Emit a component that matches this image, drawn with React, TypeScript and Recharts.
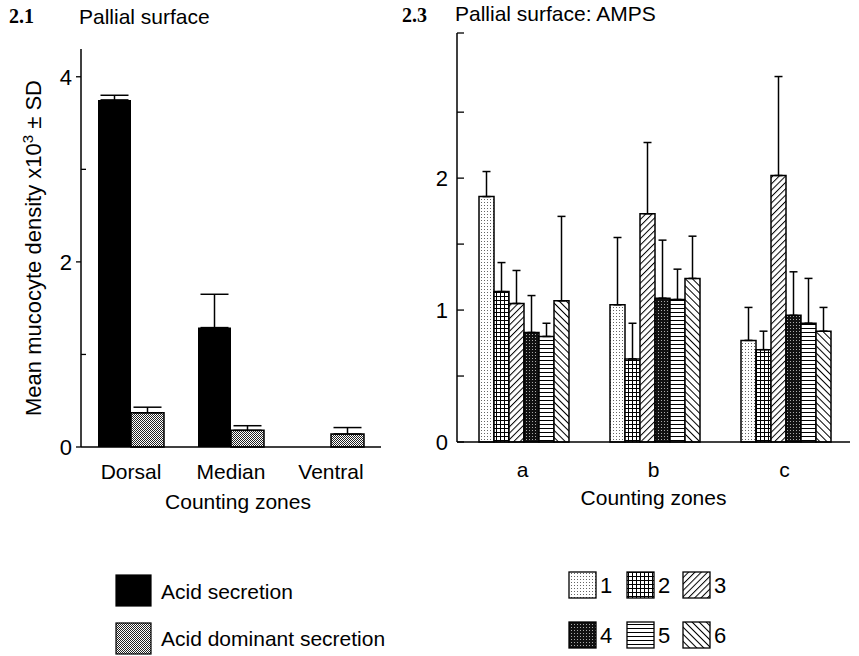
import React from 'react';
import { BarChart, Bar, XAxis, YAxis, ErrorBar, Label } from 'recharts';

// 2.1 Pallial surface
const zones21 = ['Dorsal', 'Median', 'Ventral'];
const acidSecretion = [3.75, 1.29, 0];
const acidSecretionSD = [0.05, 0.36, 0];
const acidDominant = [0.37, 0.18, 0.14];
const acidDominantSD = [0.06, 0.05, 0.07];
const ticks21 = [0, 1, 2, 3, 4];

// 2.3 Pallial surface: AMPS
const zones23 = ['a', 'b', 'c'];
const amps1 = [1.86, 1.04, 0.77];
const amps2 = [1.14, 0.63, 0.7];
const amps3 = [1.05, 1.73, 2.02];
const amps4 = [0.83, 1.09, 0.96];
const amps5 = [0.8, 1.08, 0.9];
const amps6 = [1.07, 1.24, 0.84];
const ampsSD1 = [0.19, 0.51, 0.25];
const ampsSD2 = [0.22, 0.27, 0.14];
const ampsSD3 = [0.25, 0.54, 0.75];
const ampsSD4 = [0.28, 0.44, 0.33];
const ampsSD5 = [0.1, 0.23, 0.34];
const ampsSD6 = [0.64, 0.32, 0.18];
const ticks23 = [0, 0.5, 1, 1.5, 2, 2.5, 3.1];

const series21 = [
  { key: 'acid', name: 'Acid secretion', fill: '#000', values: acidSecretion, sd: acidSecretionSD },
  { key: 'dom', name: 'Acid dominant secretion', fill: 'url(#pDom)', values: acidDominant, sd: acidDominantSD },
];

const series23 = [
  { key: 's1', name: '1', fill: 'url(#p1)', values: amps1, sd: ampsSD1 },
  { key: 's2', name: '2', fill: 'url(#p2)', values: amps2, sd: ampsSD2 },
  { key: 's3', name: '3', fill: 'url(#p3)', values: amps3, sd: ampsSD3 },
  { key: 's4', name: '4', fill: 'url(#p4)', values: amps4, sd: ampsSD4 },
  { key: 's5', name: '5', fill: 'url(#p5)', values: amps5, sd: ampsSD5 },
  { key: 's6', name: '6', fill: 'url(#p6)', values: amps6, sd: ampsSD6 },
];

const buildRows = (zones: string[], series: typeof series21) =>
  zones.map((zone, i) => {
    const row: any = { zone };
    series.forEach((s) => {
      row[s.key] = s.values[i];
      row[s.key + 'Err'] = [0, s.sd[i]];
    });
    return row;
  });

const data21 = buildRows(zones21, series21);
const data23 = buildRows(zones23, series23);

const FONT = '"Liberation Sans", Arial, Helvetica, sans-serif';

const LeftYTick = (props: any) => {
  const { x, y, payload } = props;
  const v = payload.value;
  const major = v % 2 === 0;
  return (
    <g>
      <line x1={major ? x - 5 : x} x2={major ? x : x + 5} y1={y} y2={y} stroke="#000" strokeWidth={1.3} />
      {major && (
        <text x={x - 9} y={y} dy="0.36em" textAnchor="end" fontSize={22} fill="#000" fontFamily={FONT}>
          {v}
        </text>
      )}
    </g>
  );
};

const RightYTick = (props: any) => {
  const { x, y, payload } = props;
  const v = payload.value;
  return (
    <g>
      <line x1={x} x2={x + 7} y1={y} y2={y} stroke="#000" strokeWidth={1.3} />
      {Number.isInteger(v) && (
        <text x={x - 9} y={y} dy="0.36em" textAnchor="end" fontSize={22} fill="#000" fontFamily={FONT}>
          {v}
        </text>
      )}
    </g>
  );
};

const xTick = (offset: number) => (props: any) => (
  <text x={props.x} y={props.y + offset} dy="0.36em" textAnchor="middle" fontSize={21} fill="#000" fontFamily={FONT}>
    {props.payload.value}
  </text>
);

const zonesLabel = (offset: number, shift: number) => (props: any) => {
  const vb = props.viewBox;
  return (
    <text x={vb.x + vb.width / 2 + shift} y={vb.y + offset} dy="0.36em" textAnchor="middle" fontSize={21} fill="#000" fontFamily={FONT}>
      Counting zones
    </text>
  );
};

const densityLabel = (props: any) => {
  const vb = props.viewBox;
  const cx = vb.x + 33;
  const cy = vb.y + vb.height / 2;
  return (
    <text x={cx} y={cy} dy="0.36em" textAnchor="middle" fontSize={22} fill="#000" fontFamily={FONT} transform={`rotate(-90, ${cx}, ${cy})`}>
      Mean mucocyte density x10<tspan dy={-8} fontSize={15}>3</tspan>
      <tspan dy={8}> ± SD</tspan>
    </text>
  );
};

const Patterns = () => (
  <svg width={0} height={0} style={{ position: 'absolute' }}>
    <defs>
      <pattern id="pDom" width={2} height={2} patternUnits="userSpaceOnUse">
        <rect width={2} height={2} fill="#fff" />
        <rect width={1} height={1} fill="#222" />
        <rect x={1} y={1} width={1} height={1} fill="#222" />
      </pattern>
      <pattern id="p1" width={3} height={3} patternUnits="userSpaceOnUse">
        <rect width={3} height={3} fill="#fff" />
        <rect x={1} y={1} width={1} height={1} fill="#666" />
      </pattern>
      <pattern id="p2" width={4} height={4} patternUnits="userSpaceOnUse">
        <rect width={4} height={4} fill="#fff" />
        <rect width={4} height={1} fill="#000" />
        <rect width={1} height={4} fill="#000" />
      </pattern>
      <pattern id="p3" width={4.5} height={4.5} patternUnits="userSpaceOnUse" patternTransform="rotate(45)">
        <rect width={4.5} height={4.5} fill="#fff" />
        <rect width={1} height={4.5} fill="#000" />
      </pattern>
      <pattern id="p4" width={3} height={3} patternUnits="userSpaceOnUse">
        <rect width={3} height={3} fill="#111" />
        <rect x={1} y={1} width={1} height={1} fill="#aaa" />
      </pattern>
      <pattern id="p5" width={4} height={4} patternUnits="userSpaceOnUse">
        <rect width={4} height={4} fill="#fff" />
        <rect width={4} height={1} fill="#000" />
      </pattern>
      <pattern id="p6" width={5} height={5} patternUnits="userSpaceOnUse" patternTransform="rotate(-45)">
        <rect width={5} height={5} fill="#fff" />
        <rect width={1} height={5} fill="#000" />
      </pattern>
    </defs>
  </svg>
);

const Legends = () => (
  <svg width={859} height={96} style={{ position: 'absolute', left: 0, top: 560 }}>
    {series21.map((s, i) => (
      <g key={s.key}>
        <rect x={116} y={15 + i * 48} width={35} height={31} fill={s.fill} stroke="#000" strokeWidth={1.2} />
        <text x={161} y={31 + i * 47} dy="0.36em" fontSize={21} fill="#000" fontFamily={FONT}>
          {s.name}
        </text>
      </g>
    ))}
    {series23.map((s, i) => {
      const col = i % 3;
      const row = Math.floor(i / 3);
      const x = [569, 627, 683][col];
      const y = 12 + row * 50;
      return (
        <g key={s.key}>
          <rect x={x} y={y} width={27} height={26} fill={s.fill} stroke="#000" strokeWidth={1.3} />
          <text x={x + 31} y={y + 13} dy="0.36em" fontSize={22} fill="#000" fontFamily={FONT}>
            {s.name}
          </text>
        </g>
      );
    })}
  </svg>
);

export default function App() {
  return (
    <div style={{ position: 'absolute', left: 0, top: 0, width: 859, height: 656, background: '#fff', fontFamily: FONT }}>
      <Patterns />
      <div style={{ position: 'absolute', left: 9, top: 5, fontFamily: '"Liberation Serif", serif', fontWeight: 'bold', fontSize: 20 }}>2.1</div>
      <div style={{ position: 'absolute', left: 79, top: 5, fontSize: 21 }}>Pallial surface</div>
      <div style={{ position: 'absolute', left: 402, top: 4, fontFamily: '"Liberation Serif", serif', fontWeight: 'bold', fontSize: 20 }}>2.3</div>
      <div style={{ position: 'absolute', left: 455, top: 2, fontSize: 21 }}>Pallial surface: AMPS</div>

      <div style={{ position: 'absolute', left: 0, top: 0 }}>
        <BarChart width={400} height={520} data={data21} margin={{ top: 49, right: 19, bottom: 0, left: 0 }} barCategoryGap={17} barGap={0}>
          <XAxis dataKey="zone" height={73} tickLine={false} tickSize={0} tickMargin={0} tick={xTick(24)} axisLine={{ stroke: '#000', strokeWidth: 1.5 }}>
            <Label content={zonesLabel(54, 7)} />
          </XAxis>
          <YAxis type="number" domain={[0, 4.3]} ticks={ticks21} width={81} tickLine={false} tickSize={0} tickMargin={0} tick={LeftYTick} axisLine={{ stroke: '#000', strokeWidth: 1.5 }}>
            <Label content={densityLabel} />
          </YAxis>
          {series21.map((s) => (
            <Bar key={s.key} dataKey={s.key} name={s.name} fill={s.fill} stroke={s.fill === '#000' ? 'none' : '#000'} strokeWidth={1.5} isAnimationActive={false}>
              <ErrorBar dataKey={s.key + 'Err'} direction="y" width={14} stroke="#000" strokeWidth={1.5} />
            </Bar>
          ))}
        </BarChart>
      </div>

      <div style={{ position: 'absolute', left: 420, top: 0 }}>
        <BarChart width={439} height={520} data={data23} margin={{ top: 33, right: 9, bottom: 0, left: 0 }} barCategoryGap={22} barGap={0}>
          <XAxis dataKey="zone" height={78} tickLine={false} tickSize={0} tickMargin={0} tick={xTick(27)} axisLine={{ stroke: '#000', strokeWidth: 1.5 }}>
            <Label content={zonesLabel(55, 0)} />
          </XAxis>
          <YAxis type="number" domain={[0, 3.1]} ticks={ticks23} width={37} tickLine={false} tickSize={0} tickMargin={0} tick={RightYTick} axisLine={{ stroke: '#000', strokeWidth: 1.5 }} />
          {series23.map((s) => (
            <Bar key={s.key} dataKey={s.key} name={s.name} fill={s.fill} stroke="#000" strokeWidth={1.5} isAnimationActive={false}>
              <ErrorBar dataKey={s.key + 'Err'} direction="y" width={4} stroke="#000" strokeWidth={1.5} />
            </Bar>
          ))}
        </BarChart>
      </div>

      <Legends />
    </div>
  );
}
